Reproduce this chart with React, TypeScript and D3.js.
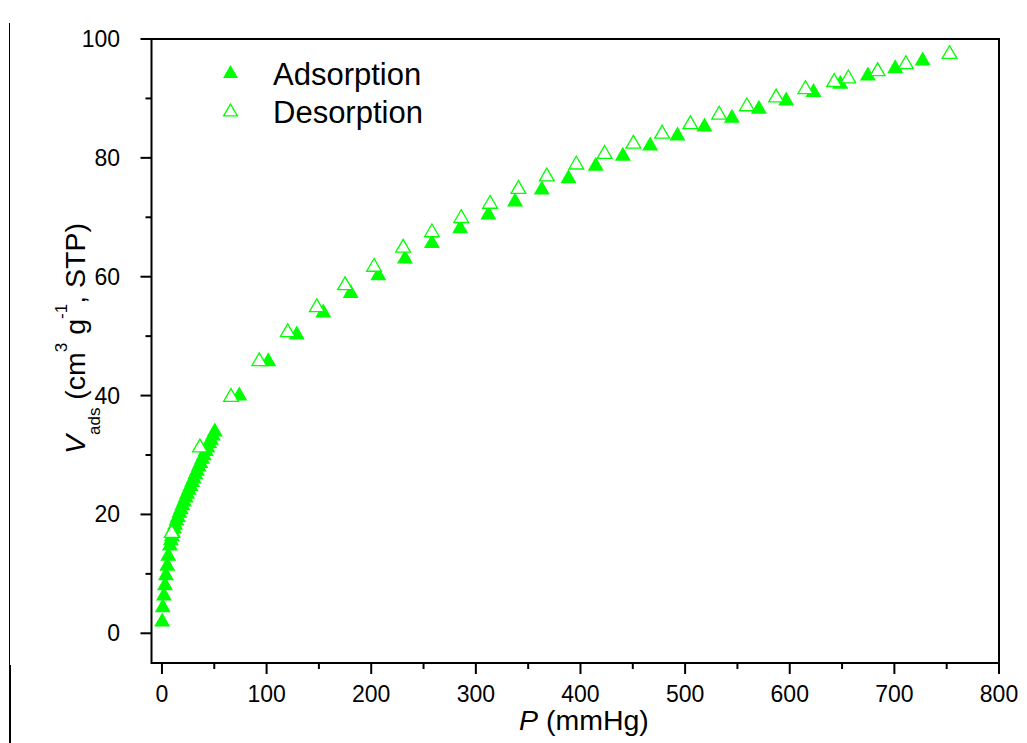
import React from "react";
import * as d3 from "d3";

// Nitrogen-style isotherm: adsorbed volume vs. pressure
const adsorptionP = [
  0.2, 0.8, 1.9, 2.9, 3.8, 5.1, 6.0, 7.6,
  8.5, 9.5, 10.4, 11.5, 12.6, 13.9, 15.2, 16.6, 18.0, 19.5, 21.0, 22.6, 24.0, 25.6,
  27.2, 28.8, 30.3, 31.9, 33.4, 35.1, 36.7, 38.4, 40.0, 41.8, 43.4, 45.2, 46.8, 48.6, 50.5,
  73.9, 101.6, 128.8, 154.2, 180.4, 206.8, 232.3, 258, 285, 312, 337.5, 363, 388.5,
  414.6, 440.5, 466.6, 492.7, 518.5, 544.7, 570.5, 596.6, 622.7, 648.3, 674.7, 700.8, 727,
];
const adsorptionV = [
  2.3, 4.7, 6.7, 8.4, 10.1, 11.7, 13.4, 15.1,
  16.0, 16.7, 17.3, 18.0, 18.6, 19.3, 19.9, 20.6, 21.2, 21.9, 22.5, 23.2, 23.8, 24.5,
  25.1, 25.8, 26.4, 27.1, 27.7, 28.4, 29.0, 29.7, 30.3, 31.0, 31.6, 32.3, 32.9, 33.6, 34.3,
  40.35, 46.1, 50.6, 54.3, 57.6, 60.6, 63.4, 66.0, 68.5, 70.8, 73.0, 75.0, 76.9,
  79.0, 80.7, 82.4, 84.1, 85.6, 87.1, 88.6, 90.0, 91.4, 92.8, 94.2, 95.4, 96.7,
];
const desorptionP = [
  9.3, 36.3, 66, 93, 120.2, 148, 175, 202.7, 230.5, 258, 286, 313.6, 340.7, 367.8,
  396, 423, 450.6, 478, 505, 532.5, 559, 587, 615, 642.5, 656, 684, 711, 752.7,
];
const desorptionV = [
  17.2, 31.6, 40.1, 46.1, 51.0, 55.2, 58.9, 62.0, 65.2, 67.8, 70.2, 72.6, 75.1, 77.2,
  79.2, 81.0, 82.7, 84.4, 86.0, 87.6, 89.0, 90.5, 91.9, 93.1, 93.7, 94.9, 96.1, 97.8,
];

const xMajor = [0, 100, 200, 300, 400, 500, 600, 700, 800];
const xMinor = [50, 150, 250, 350, 450, 550, 650, 750];
const yMajor = [0, 20, 40, 60, 80, 100];
const yMinor = [10, 30, 50, 70, 90];
const legendLabels = ["Adsorption", "Desorption"];

const W = 1027;
const H = 743;
const left = 151.5;
const right = 999;
const top = 39;
const bottom = 663;
const GREEN = "#00ff00";
const FONT = "'Liberation Sans', Arial, Helvetica, sans-serif";

const x = d3.scaleLinear().domain([-10, 800]).range([left, right]);
const y = d3.scaleLinear().domain([-5, 100]).range([bottom, top]);

// triangle centred on its bounding box
const tri = (w: number, h: number) => {
  const p = d3.path();
  p.moveTo(0, -h / 2);
  p.lineTo(w / 2, h / 2);
  p.lineTo(-w / 2, h / 2);
  p.closePath();
  return p.toString();
};
const filledTri = tri(16, 14);
const openTri = tri(14.8, 12.8);

export default function App() {
  const ads = adsorptionP.map((p, i) => [p, adsorptionV[i]]);
  const des = desorptionP.map((p, i) => [p, desorptionV[i]]);

  return (
    <svg
      width={W}
      height={H}
      viewBox={`0 0 ${W} ${H}`}
      style={{ position: "absolute", left: 0, top: 0, background: "#fff" }}
      fontFamily={FONT}
    >
      <rect width={W} height={H} fill="#fff" />

      {/* page edge rules */}
      <line x1={9.5} x2={9.5} y1={23} y2={665} stroke="#000" strokeWidth={1} />
      <line x1={10} x2={10} y1={665} y2={743} stroke="#000" strokeWidth={2} />

      {/* frame */}
      <path
        d={`M${left},${top}H${right}V${bottom}H${left}Z`}
        fill="none"
        stroke="#000"
        strokeWidth={2}
      />

      {/* x ticks */}
      {xMajor.map((t) => (
        <g key={`xm${t}`}>
          <line x1={x(t)} x2={x(t)} y1={bottom} y2={bottom + 11} stroke="#000" strokeWidth={2} />
          <text x={x(t)} y={701.5} fontSize={23} textAnchor="middle" fill="#000">
            {t}
          </text>
        </g>
      ))}
      {xMinor.map((t) => (
        <line key={`xn${t}`} x1={x(t)} x2={x(t)} y1={bottom} y2={bottom + 6} stroke="#000" strokeWidth={2} />
      ))}

      {/* y ticks */}
      {yMajor.map((t) => (
        <g key={`ym${t}`}>
          <line x1={left - 11} x2={left} y1={y(t)} y2={y(t)} stroke="#000" strokeWidth={2} />
          <text x={120} y={y(t) + 8} fontSize={23} textAnchor="end" fill="#000">
            {t}
          </text>
        </g>
      ))}
      {yMinor.map((t) => (
        <line key={`yn${t}`} x1={left - 6} x2={left} y1={y(t)} y2={y(t)} stroke="#000" strokeWidth={2} />
      ))}

      {/* axis titles */}
      <text x={519} y={730} fontSize={28.5} fill="#000">
        <tspan fontStyle="italic">P</tspan>
        <tspan> (mmHg)</tspan>
      </text>
      <text transform="translate(85,454) rotate(-90)" fontSize={28.5} fill="#000">
        <tspan fontStyle="italic">V</tspan>
        <tspan fontSize={17} dy={15}>ads</tspan>
        <tspan dy={-15}> (cm</tspan>
        <tspan fontSize={17} dy={-18}>3</tspan>
        <tspan dy={18}> g</tspan>
        <tspan fontSize={17} dy={-18}>-1</tspan>
        <tspan dy={18}>, STP)</tspan>
      </text>

      {/* adsorption branch */}
      {ads.map(([p, v], i) => (
        <path key={`a${i}`} d={filledTri} transform={`translate(${x(p)},${y(v)})`} fill={GREEN} />
      ))}
      {/* desorption branch */}
      {des.map(([p, v], i) => (
        <path
          key={`d${i}`}
          d={openTri}
          transform={`translate(${x(p)},${y(v)})`}
          fill="#fff"
          stroke={GREEN}
          strokeWidth={1.3}
        />
      ))}

      {/* legend */}
      <path d={tri(15, 13)} transform="translate(230.5,71.5)" fill={GREEN} />
      <text x={273} y={85} fontSize={31} fill="#000">{legendLabels[0]}</text>
      <path
        d={tri(13.8, 11.8)}
        transform="translate(230.5,110)"
        fill="#fff"
        stroke={GREEN}
        strokeWidth={1.3}
      />
      <text x={273} y={122.5} fontSize={31} fill="#000">{legendLabels[1]}</text>
    </svg>
  );
}
